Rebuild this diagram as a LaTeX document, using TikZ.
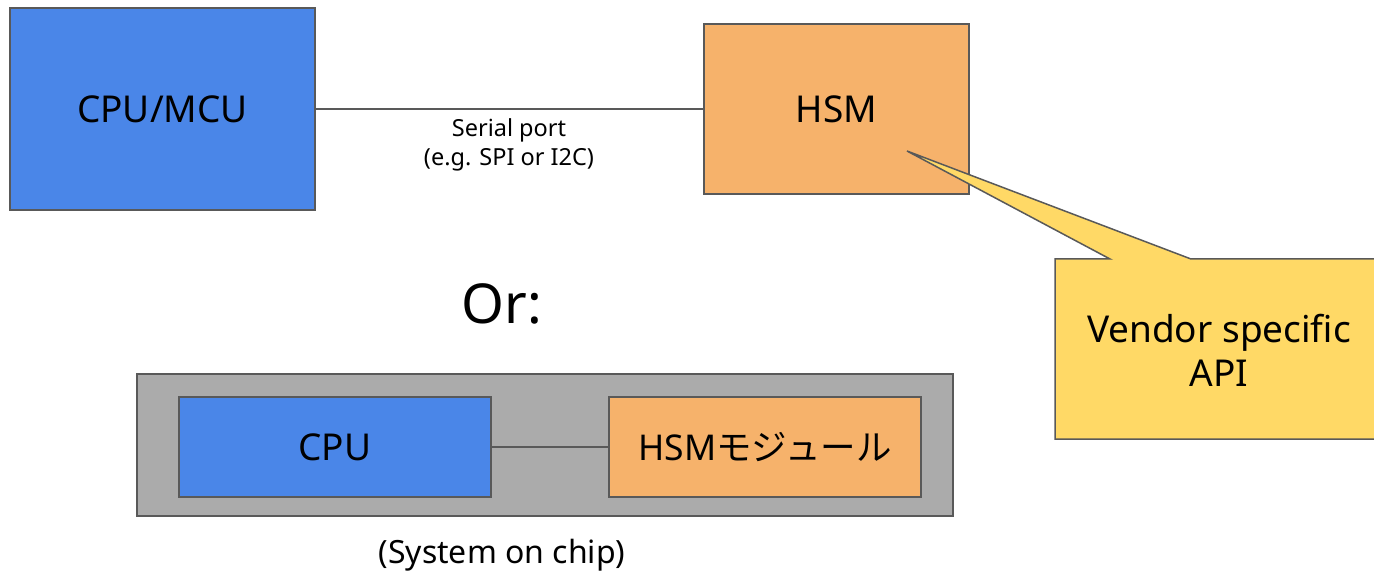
\documentclass[tikz,border=0pt]{standalone}
\usepackage{fontspec}
\setmainfont{Noto Sans}
\newfontfamily\cjk{Noto Sans CJK JP}
\definecolor{cpublue}{HTML}{4A86E8}
\definecolor{hsmorange}{HTML}{F6B26B}
\definecolor{noteyellow}{HTML}{FFD966}
\definecolor{socgray}{HTML}{ABABAB}
\definecolor{edge}{HTML}{595959}
\tikzset{
  block/.style={draw=edge, line width=1.5pt, minimum width=#1, inner sep=0pt},
  bigtext/.style={font=\fontsize{37}{44}\selectfont, align=center},
  link/.style={draw=edge, line width=1.5pt},
}
\begin{document}
\begin{tikzpicture}[x=1pt, y=-1pt]
  \useasboundingbox (0,0) rectangle (1374,572);
  \clip (0,0) rectangle (1374,572);

  % top row: discrete processor and HSM
  \node[block=305pt, minimum height=202pt, fill=cpublue, bigtext] (cpu) at (162.5,109) {CPU/MCU};
  \node[block=265pt, minimum height=170pt, fill=hsmorange, bigtext] (hsm) at (836.5,109) {HSM};
  \draw[link] (cpu.east) -- (hsm.west);
  \node[font=\fontsize{23.5}{29}\selectfont, align=center] (serial) at (509,145) {Serial port\\(e.g. SPI or I2C)};

  % callout pointing into the HSM
  \coordinate (tip) at (907,151);
  \draw[draw=edge, line width=1.5pt, fill=noteyellow, line join=miter]
    (1110,259) -- (tip) -- (1191,259) -- (1390,259) -- (1390,439) -- (1055,439) -- (1055,259) -- cycle;
  \node[bigtext] (api) at (1219,350) {Vendor specific\\API};

  % alternative
  \node[font=\fontsize{55}{60}\selectfont] (or) at (502,304) {Or:};

  % system on chip
  \node[block=816pt, minimum height=142pt, fill=socgray] (soc) at (545,445) {};
  \node[block=312pt, minimum height=100pt, fill=cpublue, bigtext] (cpu2) at (335,447) {CPU};
  \node[block=312pt, minimum height=100pt, fill=hsmorange, bigtext, font=\fontsize{35.5}{42}\selectfont] (hsm2) at (765,447) {HSM{\cjk モジュール}};
  \draw[link] (cpu2.east) -- (hsm2.west);
  \node[font=\fontsize{32}{38}\selectfont] (soclabel) at (502,555) {(System on chip)};
\end{tikzpicture}
\end{document}
